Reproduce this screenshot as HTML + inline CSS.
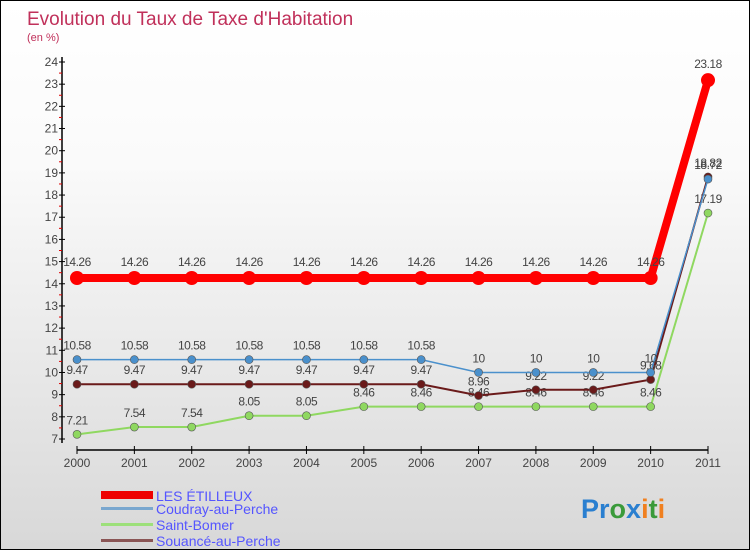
<!DOCTYPE html>
<html><head><meta charset="utf-8">
<style>
body{margin:0;}
#wrap{width:750px;height:550px;position:relative;box-sizing:border-box;border:1px solid #000;background:linear-gradient(#fff,#fafafa 30%,#d8d8d8);font-family:"Liberation Sans",sans-serif;overflow:hidden;}
svg text{font-family:"Liberation Sans",sans-serif;}
</style></head><body>
<div id="wrap">
<svg id="chart" width="750" height="550">
<text x="26" y="24" font-size="19" fill="#c0305a">Evolution du Taux de Taxe d'Habitation</text>
<text x="26" y="40" font-size="11" fill="#c0305a">(en %)</text>
<g id="axes"></g><g id="series"></g>
<g>
<rect x="100" y="490" width="52" height="8" fill="#e00"/>
<text x="155" y="500" font-size="14" fill="#55f">LES ÉTILLEUX</text>
<rect x="100" y="506" width="52" height="3" fill="#7aa7cf"/>
<text x="155" y="513" font-size="14" fill="#55f">Coudray-au-Perche</text>
<rect x="100" y="522" width="52" height="3" fill="#9de07a"/>
<text x="155" y="529" font-size="14" fill="#55f">Saint-Bomer</text>
<rect x="100" y="538" width="52" height="3" fill="#8a5555"/>
<text x="155" y="545" font-size="14" fill="#55f">Souancé-au-Perche</text>
</g>
<text x="580" y="517" font-size="27" font-weight="bold"><tspan fill="#2a7fd0">Pr</tspan><tspan fill="#3a9a3a">o</tspan><tspan fill="#2a7fd0">x</tspan><tspan fill="#f08020">i</tspan><tspan fill="#3a9a3a">t</tspan><tspan fill="#f08020">i</tspan></text>
</svg>
</div>
<script>
const years=["2000","2001","2002","2003","2004","2005","2006","2007","2008","2009","2010","2011"];
const yTicks=[7,8,9,10,11,12,13,14,15,16,17,18,19,20,21,22,23,24];
const etilleux=[14.26,14.26,14.26,14.26,14.26,14.26,14.26,14.26,14.26,14.26,14.26,23.18];
const coudray=[10.58,10.58,10.58,10.58,10.58,10.58,10.58,10,10,10,10,18.72];
const saintBomer=[7.21,7.54,7.54,8.05,8.05,8.46,8.46,8.46,8.46,8.46,8.46,17.19];
const souance=[9.47,9.47,9.47,9.47,9.47,9.47,9.47,8.96,9.22,9.22,9.68,18.82];
const NS="http://www.w3.org/2000/svg";
function X(i){return 76+i*(707-76)/11;}
function Y(v){return 438-(v-7)*(438-61)/17;}
function mk(tag,attrs,parent,txt){const e=document.createElementNS(NS,tag);for(const k in attrs)e.setAttribute(k,attrs[k]);if(txt!==undefined)e.textContent=txt;parent.appendChild(e);return e;}
const ax=document.getElementById('axes');
let l=mk('line',{x1:61,y1:56,x2:61,y2:442,stroke:'#000','stroke-width':1.5},ax);

l=mk('line',{x1:76,y1:449,x2:707,y2:449,stroke:'#000','stroke-width':1.5},ax);

yTicks.forEach(v=>{mk('line',{x1:58,x2:64,y1:Y(v),y2:Y(v),stroke:'#000'},ax);
 if(v<24)mk('line',{x1:58,x2:61,y1:Y(v+0.5),y2:Y(v+0.5),stroke:'#d00'},ax);
 const t=mk('text',{x:57,y:Y(v)+4,'font-size':12,fill:'#444','text-anchor':'end'},ax,v);
 });
years.forEach((y,i)=>{mk('line',{x1:X(i),x2:X(i),y1:445,y2:453,stroke:'#000'},ax);
 const t=mk('text',{x:X(i),y:466,'font-size':12,fill:'#444','text-anchor':'middle'},ax,y);
 });
const sg=document.getElementById('series');
function draw(data,color,w,r,name,dy){
 const g=mk('g',{},sg);
 const p=mk('polyline',{points:data.map((v,i)=>X(i)+','+Y(v)).join(' '),fill:'none',stroke:color,'stroke-width':w},g);
 
 data.forEach((v,i)=>{const c=mk('circle',{cx:X(i),cy:Y(v),r:r,fill:color,stroke:'#555','stroke-width':r>5?0:0.6},g);
  
  const t=mk('text',{x:X(i),y:Y(v)+dy,'font-size':12,fill:'#444','text-anchor':'middle','letter-spacing':'-0.5'},g,String(v));
  });
}
draw(saintBomer,'#8fd860',2,4,'saint-bomer',-10);
draw(souance,'#6a1a1a',2,4,'souance',-10);
draw(coudray,'#4a90cc',1.5,4,'coudray',-10);
draw(etilleux,'#f00',8,7,'les-etilleux',-12);
</script>
</body></html>
